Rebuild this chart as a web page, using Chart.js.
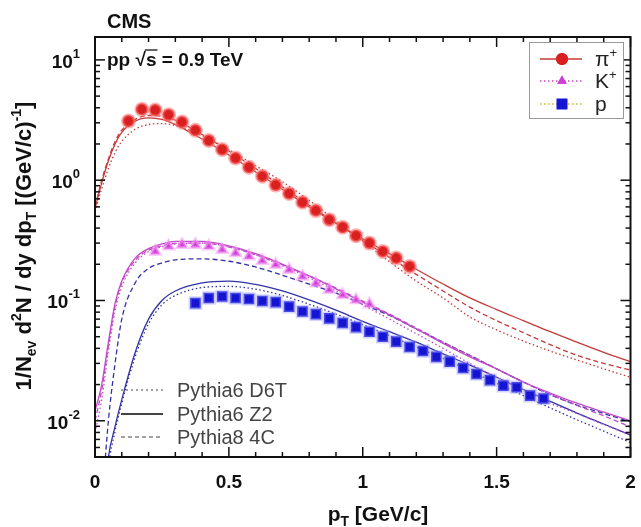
<!DOCTYPE html>
<html>
<head>
<meta charset="utf-8">
<script src="https://cdn.jsdelivr.net/npm/chart.js@4.4.1/dist/chart.umd.min.js"></script>
<style>
  body { margin: 0; background: #fff; }
  canvas { display: block; }
</style>
</head>
<body>
<canvas id="spectra" width="641" height="527"></canvas>
<script>
// measured yields, pT bins of 0.05 GeV/c
const ptPi = [0.125, 0.175, 0.225, 0.275, 0.325, 0.375, 0.425, 0.475, 0.525, 0.575, 0.625,
              0.675, 0.725, 0.775, 0.825, 0.875, 0.925, 0.975, 1.025, 1.075, 1.125, 1.175];
const yPi  = [3.1, 3.88, 3.83, 3.5, 3.04, 2.6, 2.14, 1.80, 1.53, 1.28, 1.08,
              0.91, 0.775, 0.656, 0.559, 0.47, 0.406, 0.346, 0.30, 0.256, 0.225, 0.192];

const ptK = [0.225, 0.275, 0.325, 0.375, 0.425, 0.475, 0.525, 0.575, 0.625,
             0.675, 0.725, 0.775, 0.825, 0.875, 0.925, 0.975, 1.025];
const yK  = [0.256, 0.282, 0.291, 0.291, 0.282, 0.264, 0.248, 0.233, 0.214,
             0.198, 0.18, 0.158, 0.139, 0.123, 0.111, 0.101, 0.093];

const ptP = [0.375, 0.425, 0.475, 0.525, 0.575, 0.625, 0.675, 0.725, 0.775, 0.825, 0.875,
             0.925, 0.975, 1.025, 1.075, 1.125, 1.175, 1.225, 1.275, 1.325, 1.375, 1.425,
             1.475, 1.525, 1.575, 1.625, 1.675];
const yP  = [0.095, 0.105, 0.108, 0.105, 0.103, 0.099, 0.097, 0.089, 0.081, 0.077, 0.071,
             0.065, 0.060, 0.055, 0.050, 0.0455, 0.041, 0.038, 0.034, 0.031, 0.0275, 0.0245,
             0.0218, 0.0196, 0.019, 0.0162, 0.0153];

// generator predictions on a common pT grid
const ptGrid = [0, 0.025, 0.05, 0.075, 0.1, 0.15, 0.2, 0.25, 0.3, 0.4, 0.5, 0.6, 0.7,
                0.8, 0.9, 1.0, 1.1, 1.2, 1.3, 1.4, 1.5, 1.6, 1.7, 1.8, 1.9, 2.0];

const piD6T = [0.55, 0.85, 1.25, 1.7, 2.1, 2.65, 2.9, 2.95, 2.85, 2.35, 1.8, 1.32, 0.97,
               0.68, 0.46, 0.31, 0.21, 0.145, 0.105, 0.073, 0.057, 0.046, 0.038, 0.032, 0.027, 0.023];
const piZ2  = [0.58, 0.95, 1.45, 2.0, 2.5, 3.1, 3.3, 3.2, 2.9, 2.2, 1.62, 1.17, 0.84,
               0.6, 0.44, 0.325, 0.245, 0.182, 0.137, 0.105, 0.084, 0.068, 0.055, 0.045, 0.037, 0.031];
const pi4C  = [0.6, 1.0, 1.5, 2.1, 2.6, 3.2, 3.45, 3.4, 3.15, 2.4, 1.75, 1.25, 0.88,
               0.62, 0.44, 0.315, 0.228, 0.165, 0.12, 0.088, 0.068, 0.054, 0.043, 0.035, 0.03, 0.0264];

const kD6T = [0.008, 0.015, 0.038, 0.082, 0.13, 0.205, 0.255, 0.28, 0.295, 0.3, 0.28, 0.24, 0.195,
              0.155, 0.12, 0.092, 0.07, 0.053, 0.04, 0.03, 0.023, 0.018, 0.014, 0.0115, 0.0093, 0.0076];
const kZ2  = [0.012, 0.02, 0.045, 0.095, 0.145, 0.225, 0.27, 0.295, 0.31, 0.31, 0.285, 0.245, 0.2,
              0.16, 0.125, 0.097, 0.076, 0.058, 0.044, 0.034, 0.027, 0.021, 0.017, 0.014, 0.0118, 0.0100];
const k4C  = [0.01, 0.018, 0.042, 0.09, 0.14, 0.215, 0.262, 0.285, 0.298, 0.3, 0.278, 0.24, 0.198,
              0.16, 0.127, 0.099, 0.077, 0.059, 0.045, 0.035, 0.027, 0.021, 0.0166, 0.0134, 0.011, 0.0089];

const pD6T = [0.0003, 0.0012, 0.0042, 0.0082, 0.014, 0.034, 0.064, 0.092, 0.11, 0.128, 0.131, 0.124, 0.11,
              0.093, 0.077, 0.063, 0.051, 0.041, 0.033, 0.026, 0.0205, 0.0162, 0.0128, 0.0102, 0.0082, 0.0066];
const pZ2  = [0.0004, 0.0015, 0.005, 0.009, 0.015, 0.037, 0.07, 0.1, 0.12, 0.14, 0.145, 0.136, 0.12,
              0.101, 0.083, 0.067, 0.055, 0.045, 0.036, 0.029, 0.023, 0.0182, 0.0145, 0.0116, 0.0094, 0.0076];
const p4C  = [0.0005, 0.002, 0.01, 0.03, 0.07, 0.14, 0.185, 0.205, 0.218, 0.222, 0.212, 0.19, 0.162,
              0.137, 0.115, 0.093, 0.075, 0.058, 0.045, 0.035, 0.027, 0.021, 0.0165, 0.0135, 0.0115, 0.0098];

const xTicks = [0, 0.5, 1, 1.5, 2];
const xTickLabels = ['0', '0.5', '1', '1.5', '2'];
const yDecades = [1, 0, -1, -2];

const FONT = '"Liberation Sans", Arial, sans-serif';
const RED = '#d91f1f', MAG = '#cc3fd6', BLUE = '#1414d2';
const RED_L = '#c43a3a', MAG_L = '#c24ac8', BLUE_L = '#3232a8';

const pts = (xs, ys) => xs.map((x, i) => ({x: x, y: ys[i]}));

function curve(ys, color, dash) {
    return {
        data: pts(ptGrid, ys),
        showLine: true,
        borderColor: color,
        borderWidth: 1.3,
        borderDash: dash,
        pointRadius: 0,
        cubicInterpolationMode: 'monotone',
        fill: false,
        order: 2
    };
}

function marks(xs, ys, style, r, color, halo) {
    return {
        data: pts(xs, ys),
        pointStyle: style,
        pointRadius: r,
        pointBackgroundColor: color,
        pointBorderColor: halo,
        pointBorderWidth: 3,
        showLine: false,
        order: 1
    };
}

const DOT = [1.5, 2.5], DASH = [5, 3], SOLID = [];

// rich text: parts are [text, size, dy, weight]
function rich(ctx, parts, x, y, align, color) {
    ctx.fillStyle = color || '#111';
    ctx.textBaseline = 'alphabetic';
    ctx.textAlign = 'left';
    let w = 0;
    parts.forEach(p => { ctx.font = (p[3] || 'bold') + ' ' + p[1] + 'px ' + FONT; w += ctx.measureText(p[0]).width; });
    let cx = align === 'center' ? x - w / 2 : align === 'right' ? x - w : x;
    parts.forEach(p => {
        ctx.font = (p[3] || 'bold') + ' ' + p[1] + 'px ' + FONT;
        ctx.fillText(p[0], cx, y + (p[2] || 0));
        cx += ctx.measureText(p[0]).width;
    });
    return w;
}

function seg(ctx, x1, y1, x2, y2) {
    ctx.beginPath(); ctx.moveTo(x1, y1); ctx.lineTo(x2, y2); ctx.stroke();
}

const framePlugin = {
    id: 'frame',
    afterDatasetsDraw(chart) {
        const ctx = chart.ctx, a = chart.chartArea;
        const xs = chart.scales.x, ys = chart.scales.y;
        ctx.save();

        // frame and inward ticks
        ctx.strokeStyle = '#111';
        ctx.lineWidth = 2;
        ctx.strokeRect(a.left, a.top, a.right - a.left, a.bottom - a.top);
        ctx.lineWidth = 1.5;
        for (let i = 0; i <= 20; i++) {
            const px = xs.getPixelForValue(i / 10);
            const len = i % 5 === 0 ? 10 : 5;
            seg(ctx, px, a.bottom, px, a.bottom - len);
            seg(ctx, px, a.top, px, a.top + len);
        }
        for (let e = -3; e <= 1; e++) {
            for (let m = 1; m <= 9; m++) {
                const v = m * Math.pow(10, e);
                if (v < ys.min || v > ys.max) continue;
                const py = ys.getPixelForValue(v);
                const len = m === 1 ? 10 : 5;
                seg(ctx, a.left, py, a.left + len, py);
                seg(ctx, a.right, py, a.right - len, py);
            }
        }

        // axis labels
        xTicks.forEach((v, i) => {
            rich(ctx, [[xTickLabels[i], 19]], xs.getPixelForValue(v), 488, 'center');
        });
        yDecades.forEach(e => {
            const py = ys.getPixelForValue(Math.pow(10, e));
            rich(ctx, [['10', 19, 0], [String(e), 13, -10]], 80, py + 8, 'right');
        });
        rich(ctx, [['p', 21, 0], ['T', 14, 5], [' [GeV/c]', 21, 0]], 378, 521, 'center');

        ctx.save();
        ctx.translate(31, 246);
        ctx.rotate(-Math.PI / 2);
        rich(ctx, [['1/N', 22], ['ev', 14, 5], [' d', 22], ['2', 14, -10], ['N / dy dp', 22],
                   ['T', 14, 5], [' [(GeV/c)', 22], ['-1', 14, -10], [']', 22]], 0, 0, 'center');
        ctx.restore();

        // experiment and energy
        rich(ctx, [['CMS', 20]], 107, 28, 'left');
        const w1 = rich(ctx, [['pp ', 19], ['\u221As', 19]], 107, 66, 'left');
        ctx.font = 'bold 19px ' + FONT;
        const wS = ctx.measureText('s').width;
        ctx.lineWidth = 1.3;
        seg(ctx, 107 + w1 - wS - 1, 50, 107 + w1 + 1, 50);
        rich(ctx, [[' = 0.9 TeV', 19]], 107 + w1, 66, 'left');

        // species legend
        ctx.fillStyle = '#fff';
        ctx.fillRect(529, 42, 94, 76);
        ctx.strokeStyle = '#999';
        ctx.lineWidth = 1;
        ctx.strokeRect(529.5, 42.5, 94, 76);
        const sp = [
            {y: 59, c: RED, line: RED_L, dash: SOLID, style: 'circle', r: 6, label: ['\u03C0', '+']},
            {y: 81, c: MAG, line: MAG_L, dash: DOT, style: 'triangle', r: 5.5, label: ['K', '+']},
            {y: 104, c: BLUE, line: '#c8b040', dash: DOT, style: 'rect', r: 7.5, label: ['p', '']}
        ];
        sp.forEach(s => {
            ctx.strokeStyle = s.line;
            ctx.lineWidth = 1.3;
            ctx.setLineDash(s.dash);
            seg(ctx, 540, s.y, 582, s.y);
            ctx.setLineDash([]);
            ctx.fillStyle = s.c;
            ctx.strokeStyle = s.c;
            Chart.helpers.drawPoint(ctx, {pointStyle: s.style, radius: s.r, borderWidth: 0}, 562, s.y);
            ctx.fill();
            rich(ctx, [[s.label[0], 21, 0, 'normal'], [s.label[1], 13, -9, 'normal']], 595, s.y + 7, 'left', '#222');
        });

        // generator legend
        const gen = [
            {y: 390, dash: [2, 3], label: 'Pythia6 D6T'},
            {y: 414, dash: SOLID, label: 'Pythia6 Z2'},
            {y: 437, dash: [4, 3], label: 'Pythia8 4C'}
        ];
        gen.forEach(g => {
            ctx.strokeStyle = '#444';
            ctx.lineWidth = g.dash.length ? 1.2 : 2;
            ctx.setLineDash(g.dash);
            seg(ctx, 121, g.y, 163, g.y);
            ctx.setLineDash([]);
            rich(ctx, [[g.label, 20, 0, 'normal']], 177, g.y + 7, 'left', '#444');
        });

        ctx.restore();
    }
};

new Chart(document.getElementById('spectra'), {
    type: 'scatter',
    data: {
        datasets: [
            marks(ptPi, yPi, 'circle', 6, RED, 'rgba(255,120,120,0.55)'),
            marks(ptK, yK, 'triangle', 5.5, MAG, 'rgba(245,150,245,0.55)'),
            marks(ptP, yP, 'rect', 7.5, BLUE, 'rgba(150,150,255,0.4)'),
            curve(piD6T, RED_L, DOT), curve(piZ2, RED_L, SOLID), curve(pi4C, RED_L, DASH),
            curve(kD6T, MAG_L, DOT), curve(kZ2, MAG_L, SOLID), curve(k4C, MAG_L, DASH),
            curve(pD6T, BLUE_L, DOT), curve(pZ2, BLUE_L, SOLID), curve(p4C, BLUE_L, DASH)
        ]
    },
    options: {
        responsive: false,
        animation: false,
        layout: { padding: { left: 95, right: 5, top: 37, bottom: 70 } },
        scales: {
            x: { type: 'linear', min: 0, max: 2, display: false },
            y: { type: 'logarithmic', min: 0.005, max: 15.5, display: false }
        },
        plugins: {
            legend: { display: false },
            tooltip: { enabled: false }
        }
    },
    plugins: [framePlugin]
});
</script>
</body>
</html>
